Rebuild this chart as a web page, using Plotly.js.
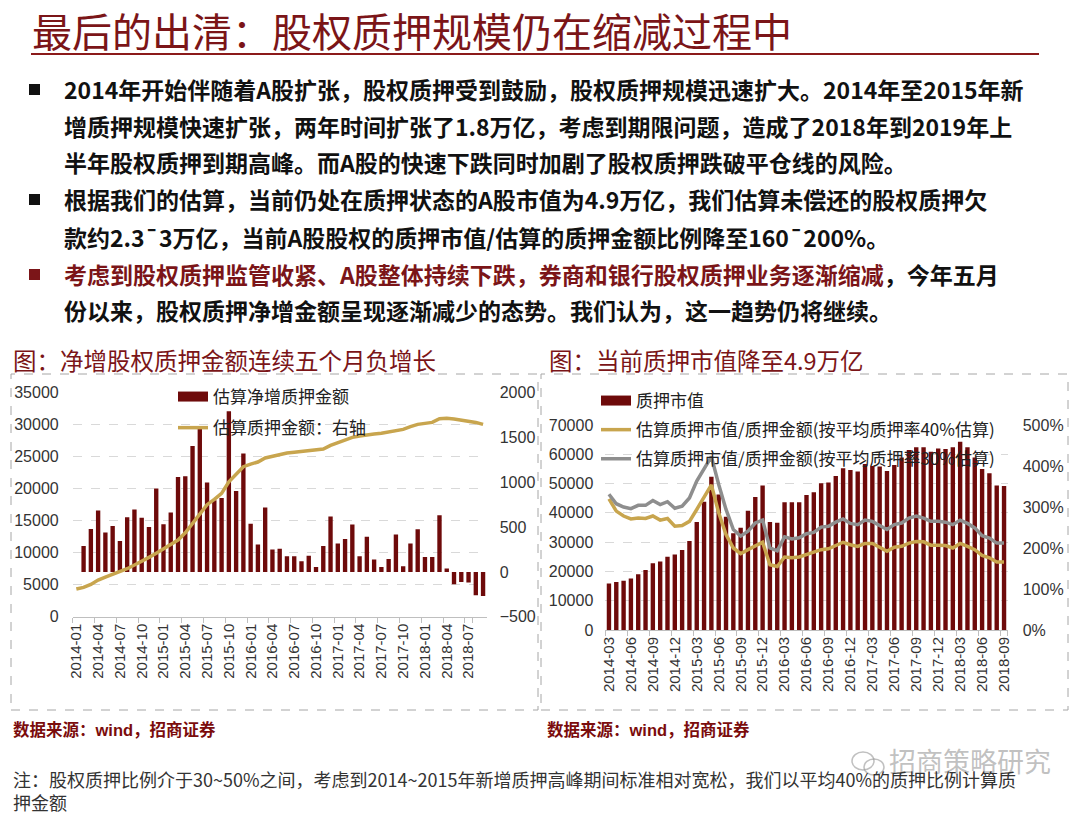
<!DOCTYPE html>
<html><head><meta charset="utf-8">
<script src="https://cdn.plot.ly/plotly-3.0.1.min.js"></script>
<style>html,body{margin:0;padding:0;background:#fff;}#chart{width:1080px;height:814px;}</style>
</head><body><div id="chart"></div>
<script>
// ---------- Left chart data ----------
const monthsL = ['2014-01','2014-02','2014-03','2014-04','2014-05','2014-06','2014-07','2014-08','2014-09','2014-10','2014-11','2014-12',
'2015-01','2015-02','2015-03','2015-04','2015-05','2015-06','2015-07','2015-08','2015-09','2015-10','2015-11','2015-12',
'2016-01','2016-02','2016-03','2016-04','2016-05','2016-06','2016-07','2016-08','2016-09','2016-10','2016-11','2016-12',
'2017-01','2017-02','2017-03','2017-04','2017-05','2017-06','2017-07','2017-08','2017-09','2017-10','2017-11','2017-12',
'2018-01','2018-02','2018-03','2018-04','2018-05','2018-06','2018-07','2018-08','2018-09'];
const ticksL = ['2014-01','2014-04','2014-07','2014-10','2015-01','2015-04','2015-07','2015-10','2016-01','2016-04','2016-07','2016-10',
'2017-01','2017-04','2017-07','2017-10','2018-01','2018-04','2018-07'];
const netIncrease = [null,290,480,685,439,513,346,610,696,603,502,930,532,662,1060,1068,1406,1600,997,800,826,1793,904,1321,536,305,718,
249,257,175,175,119,179,56,290,618,316,368,528,175,391,138,56,145,417,63,316,476,167,167,632,37,-138,-112,-119,-260,-268];
const pledgeAmount = [4320,4580,5050,5730,6200,6610,7080,7500,8070,8750,9270,9900,10570,11150,11980,13120,14580,16150,17500,18330,19270,
21090,22290,23440,23850,24170,24800,25100,25360,25570,25680,25780,25940,26040,26200,26770,27190,27500,28020,28230,28440,28540,28650,
28850,29170,29270,29690,30050,30210,30360,30940,30990,30890,30730,30570,30360,30050];

// ---------- Right chart data ----------
const monthsR = ['2014-03','2014-04','2014-05','2014-06','2014-07','2014-08','2014-09','2014-10','2014-11','2014-12',
'2015-01','2015-02','2015-03','2015-04','2015-05','2015-06','2015-07','2015-08','2015-09','2015-10','2015-11','2015-12',
'2016-01','2016-02','2016-03','2016-04','2016-05','2016-06','2016-07','2016-08','2016-09','2016-10','2016-11','2016-12',
'2017-01','2017-02','2017-03','2017-04','2017-05','2017-06','2017-07','2017-08','2017-09','2017-10','2017-11','2017-12',
'2018-01','2018-02','2018-03','2018-04','2018-05','2018-06','2018-07','2018-08','2018-09'];
const ticksR = ['2014-03','2014-06','2014-09','2014-12','2015-03','2015-06','2015-09','2015-12','2016-03','2016-06','2016-09','2016-12',
'2017-03','2017-06','2017-09','2017-12','2018-03','2018-06','2018-09'];
const pledgeMV = [15900,16400,16800,17600,19000,20500,22800,23400,25000,25800,27300,30400,36900,43800,52300,46300,38700,33000,34900,40700,
45400,49300,36900,36600,43600,43600,43600,46100,47000,50100,50400,52600,55200,54600,54100,56700,56000,55800,54300,56300,
58900,61500,62400,62400,60900,62000,61800,62400,64300,62400,58900,55000,53500,49300,49200];
const ratio40 = [320,290,278,271,273,272,278,268,272,253,255,265,294,325,354,286,233,200,186,196,206,214,159,155,178,176,178,184,189,196,
198,206,214,208,204,211,211,202,192,202,204,212,216,215,207,207,206,200,211,204,196,182,176,166,166];
const ratio30 = [331,308,300,296,304,304,316,306,313,297,302,322,363,394,423,355,294,245,229,241,261,268,200,193,227,222,225,235,238,251,
253,263,271,260,257,268,265,255,245,257,261,273,278,273,265,265,263,257,268,260,249,230,224,212,212];

// ---------- styling ----------
const W = 1080, H = 814;
const px = x => x / W, py = y => 1 - y / H;
const RED = '#7B1518', BAR = '#6E0A0A', GOLD = '#C8A54E', GRAY = '#8E8E8E';
const CJK = 'Noto Sans CJK SC, sans-serif';
const NUM = 'Liberation Sans, Arial, sans-serif';
const tickFont = {family: NUM, size: 16, color: '#333'};
const xTickFont = {family: NUM, size: 15, color: '#333'};

const traces = [
  {type:'bar', x: monthsL, y: netIncrease, xaxis:'x', yaxis:'y', name:'估算净增质押金额',
   marker:{color: BAR}, showlegend:false},
  // legend-only entry: wide bar-coloured swatch as in the reference legend
  {type:'scatter', mode:'lines', x:[null], y:[null], xaxis:'x', yaxis:'y', name:'估算净增质押金额',
   line:{color: BAR, width: 10}, legend:'legend', legendgroup:'a'},
  {type:'scatter', mode:'lines', x: monthsL, y: pledgeAmount, xaxis:'x', yaxis:'y2', name:'估算质押金额：右轴',
   line:{color: GOLD, width: 3.5}, legend:'legend', legendgroup:'b'},
  {type:'bar', x: monthsR, y: pledgeMV, xaxis:'x2', yaxis:'y3', name:'质押市值',
   marker:{color: BAR}, showlegend:false},
  {type:'scatter', mode:'lines', x:[null], y:[null], xaxis:'x2', yaxis:'y3', name:'质押市值',
   line:{color: BAR, width: 10}, legend:'legend2', legendgroup:'c'},
  {type:'scatter', mode:'lines', x: monthsR, y: ratio40, xaxis:'x2', yaxis:'y4', name:'估算质押市值/质押金额(按平均质押率40%估算)',
   line:{color: GOLD, width: 3.5}, legend:'legend2', legendgroup:'d'},
  {type:'scatter', mode:'lines', x: monthsR, y: ratio30, xaxis:'x2', yaxis:'y4', name:'估算质押市值/质押金额(按平均质押率30%估算)',
   line:{color: GRAY, width: 3.5}, legend:'legend2', legendgroup:'e'}
];

const xCommon = {type:'category', tickmode:'array', tickangle:-90, tickson:'boundaries', ticks:'outside', ticklen:5,
  tickcolor:'#BFBFBF', showline:true, linecolor:'#BFBFBF', linewidth:1, showgrid:false, tickfont: xTickFont, fixedrange:true};

const layout = {
  width: W, height: H, margin:{l:0,r:0,t:0,b:0}, paper_bgcolor:'#fff', plot_bgcolor:'rgba(0,0,0,0)',
  bargap: 0.4, showlegend: true,
  xaxis: Object.assign({}, xCommon, {domain:[px(72.7), px(486.7)], anchor:'y', tickvals: ticksL, ticktext: ticksL, range:[-0.5, 56.5]}),
  yaxis: {domain:[py(616.7), py(392.7)], anchor:'x', side:'right', range:[-500, 2000], dtick:500, tick0:0, tickformat:'d',
    showgrid:false, zeroline:false, showline:false, ticks:'', tickfont: tickFont, ticklabelstandoff: 12},
  yaxis2: {overlaying:'y', anchor:'x', side:'left', range:[0, 35000], dtick:5000, tickformat:'d', showgrid:true, gridcolor:'#D9D9D9',
    griddash:'dash', gridwidth:1, zeroline:false, showline:false, ticks:'', tickfont: tickFont, ticklabelstandoff: 13},
  xaxis2: Object.assign({}, xCommon, {domain:[px(605.3), px(1007.7)], anchor:'y3', tickvals: ticksR, ticktext: ticksR, range:[-0.5, 54.5]}),
  yaxis3: {domain:[py(630), py(425)], anchor:'x2', side:'left', range:[0, 70000], dtick:10000, tickformat:'d', showgrid:true, gridcolor:'#D9D9D9',
    griddash:'dash', zeroline:false, showline:false, ticks:'', tickfont: tickFont, ticklabelstandoff: 11},
  yaxis4: {overlaying:'y3', anchor:'x2', side:'right', range:[0, 500], dtick:100, tickformat:'d', ticksuffix:'%', showgrid:false,
    zeroline:false, showline:false, ticks:'', tickfont: tickFont, ticklabelstandoff: 14},
  legend: {x: px(173), y: py(379), xanchor:'left', yanchor:'top', bgcolor:'rgba(0,0,0,0)', traceorder:'grouped', tracegroupgap: 6,
    itemwidth: 30, font:{family: CJK, size: 17, color:'#222'}},
  legend2: {x: px(596), y: py(383), xanchor:'left', yanchor:'top', bgcolor:'rgba(0,0,0,0)', traceorder:'grouped', tracegroupgap: 4,
    itemwidth: 30, font:{family: CJK, size: 17, color:'#222'}},
  shapes: [
    {type:'line', xref:'paper', yref:'paper', x0:px(31), x1:px(1039), y0:py(54), y1:py(54), line:{color:'#8B1A1A', width:2}},
    {type:'rect', xref:'paper', yref:'paper', x0:px(29), x1:px(40), y0:py(95), y1:py(84), fillcolor:'#111', line:{width:0}},
    {type:'rect', xref:'paper', yref:'paper', x0:px(29), x1:px(40), y0:py(205), y1:py(194), fillcolor:'#111', line:{width:0}},
    {type:'rect', xref:'paper', yref:'paper', x0:px(29), x1:px(40), y0:py(280), y1:py(269), fillcolor:RED, line:{width:0}},
    {type:'rect', xref:'paper', yref:'paper', x0:px(11), x1:px(538), y0:py(710), y1:py(374), line:{color:'#A6A6A6', width:1, dash:'dash'}},
    {type:'rect', xref:'paper', yref:'paper', x0:px(541), x1:px(1068), y0:py(710), y1:py(374), line:{color:'#A6A6A6', width:1, dash:'dash'}},
    {type:'circle', xref:'paper', yref:'paper', x0:px(852), x1:px(874), y0:py(770), y1:py(752), line:{color:'rgba(150,150,150,0.6)', width:1.5}},
    {type:'circle', xref:'paper', yref:'paper', x0:px(864), x1:px(884), y0:py(775), y1:py(759), line:{color:'rgba(150,150,150,0.6)', width:1.5}}
  ],
  annotations: []
};

function txt(x, y, text, size, color, opts) {
  layout.annotations.push(Object.assign({xref:'paper', yref:'paper', x: px(x), y: py(y), xanchor:'left', yanchor:'middle',
    showarrow:false, text: text, font:{family: CJK, size: size, color: color}}, opts || {}));
}
txt(31, 0, '最后的出清：股权质押规模仍在缩减过程中', 40, RED, {yanchor:'top', borderpad:0});
const bodyFont = (c) => ({family: CJK, size: 23, color: c, weight: 'bold'});
const body = [
  [89, '2014年开始伴随着A股扩张，股权质押受到鼓励，股权质押规模迅速扩大。2014年至2015年新'],
  [126, '增质押规模快速扩张，两年时间扩张了1.8万亿，考虑到期限问题，造成了2018年到2019年上'],
  [162, '半年股权质押到期高峰。而A股的快速下跌同时加剧了股权质押跌破平仓线的风险。'],
  [199, '根据我们的估算，当前仍处在质押状态的A股市值为4.9万亿，我们估算未偿还的股权质押欠'],
  [237, '款约2.3¯3万亿，当前A股股权的质押市值/估算的质押金额比例降至160¯200%。'],
  [274, '<span style="color:#7B1518">考虑到股权质押监管收紧、A股整体持续下跌，券商和银行股权质押业务逐渐缩减</span>，今年五月'],
  [310, '份以来，股权质押净增金额呈现逐渐减少的态势。我们认为，这一趋势仍将继续。']
];
body.forEach(([y, t]) => layout.annotations.push({xref:'paper', yref:'paper', x: px(62), y: py(y), xanchor:'left', yanchor:'middle',
  showarrow:false, text: t, font: bodyFont('#111')}));

txt(11, 360, '图：净增股权质押金额连续五个月负增长', 23.5, RED);
txt(547, 360, '图：当前质押市值降至4.9万亿', 23.5, RED);
layout.annotations.push({xref:'paper', yref:'paper', x: px(11), y: py(729), xanchor:'left', yanchor:'middle', showarrow:false,
  text:'数据来源：wind，招商证券', font:{family: 'Liberation Sans, Noto Sans CJK SC', size:16.5, color:'#7B0C0C', weight:'bold'}});
layout.annotations.push({xref:'paper', yref:'paper', x: px(545), y: py(729), xanchor:'left', yanchor:'middle', showarrow:false,
  text:'数据来源：wind，招商证券', font:{family: 'Liberation Sans, Noto Sans CJK SC', size:16.5, color:'#7B0C0C', weight:'bold'}});
txt(887, 760, '招商策略研究', 27, 'rgba(140,140,140,0.55)');
layout.annotations.push({xref:'paper', yref:'paper', x: px(11), y: py(764), xanchor:'left', yanchor:'top', align:'left', showarrow:false,
  text:'注：股权质押比例介于30~50%之间，考虑到2014~2015年新增质押高峰期间标准相对宽松，我们以平均40%的质押比例计算质<br>押金额',
  font:{family: CJK, size: 18, color:'#333'}});

Plotly.newPlot('chart', traces, layout, {staticPlot: true});
</script></body></html>
